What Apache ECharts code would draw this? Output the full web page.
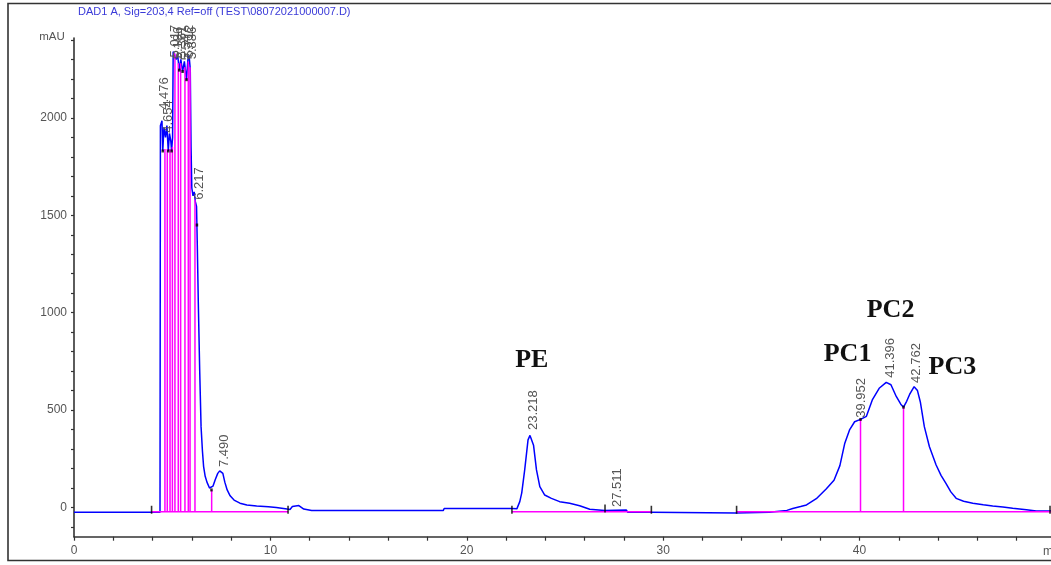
<!DOCTYPE html>
<html><head><meta charset="utf-8">
<script src="https://cdn.jsdelivr.net/npm/echarts@6/dist/echarts.min.js"></script>
<style>html,body{margin:0;padding:0;background:#fff;}#c{width:1051px;height:565px;}</style>
</head><body><div id="c"></div>
<script>
// ---- data ----
const traceTime = [0,4.38,4.40,4.48,4.52,4.58,4.66,4.73,4.80,4.86,4.93,4.97,5.02,5.05,5.12,5.20,5.28,5.36,5.44,5.53,5.62,5.73,5.80,5.86,5.92,5.96,6.00,6.06,6.12,6.18,6.24,6.28,6.33,6.40,6.47,6.54,6.60,6.68,6.77,6.90,7.00,7.08,7.20,7.32,7.42,7.50,7.58,7.68,7.80,7.95,8.15,8.45,8.80,9.30,9.90,10.30,10.35,10.85,10.90,11.00,11.12,11.20,11.45,11.55,11.70,12.10,18.80,18.85,22.30,22.55,22.70,22.80,22.95,23.12,23.22,23.30,23.40,23.55,23.72,23.97,24.31,24.73,25.24,25.75,26.26,27.02,28.13,28.20,29.40,29.45,33.70,33.75,35.40,35.45,36.30,36.60,37.00,37.30,37.80,38.30,38.70,39.00,39.25,39.50,39.75,40.05,40.35,40.65,41.00,41.36,41.60,41.87,42.10,42.24,42.40,42.55,42.78,42.95,43.10,43.30,43.56,43.90,44.15,44.40,44.65,44.92,45.30,45.77,46.30,46.78,47.30,47.80,48.50,49.00,49.75];
const traceValue = [-25,-25,1960,1985,1830,1950,1900,1960,1830,1920,1880,1830,1900,2340,2350,2300,2320,2245,2300,2238,2290,2196,2300,2320,2250,1850,1640,1600,1620,1570,1545,1340,1050,706,415,290,210,160,130,100,90,110,145,175,188,190,175,130,90,60,38,22,13,8,4,0,-8,-8,-14,-10,5,10,10,4,-8,-16,-16,-5,-5,-7,30,75,193,347,370,360,320,193,107,64,47,30,22,9,-9,-16,-13,-25,-25,-28,-28,-25,-25,-15,-15,-5,5,13,45,95,140,215,330,400,440,452,468,552,612,642,630,570,530,515,545,580,620,600,540,415,312,218,165,124,80,47,32,22,14,8,3,-4,-12,-18,-18];

// integration baselines [start, end, level]
const baseStart = [3.95, 22.30, 33.74];
const baseEnd   = [10.90, 29.40, 49.75];
const baseLevel = [-22, -22, -22];

// drop lines (time, height on trace)
const dropTime   = [4.63,4.75,4.89,5.01,5.14,5.31,5.43,5.65,5.82,5.91,6.16,7.01,40.05,42.24];
const dropHeight = [1840,1840,1840,1850,2330,2280,2280,2260,2290,2260,1580,90,452,515];

// integration event ticks
const eventTime  = [3.95,10.90,22.30,27.04,29.40,33.74,49.70];
const eventLevel = [-22,-22,-22,-16,-22,-22,-22];

// valley marks
const valleyTime  = [4.52,4.80,4.97,5.36,5.53,5.73,6.26,7.00,40.05,42.24];
const valleyValue = [1830,1830,1830,2245,2238,2196,1450,90,452,515];

// retention time labels
const rtText = ['4.476','4.654','5.017','5.186','5.361','5.547','5.712','5.886','6.217','7.490','23.218','27.511','39.952','41.396','42.762'];
const rtTime = [4.476,4.654,5.017,5.186,5.361,5.547,5.712,5.886,6.217,7.490,23.218,27.511,39.952,41.396,42.762];
const rtBase = [2021,1903,2290,2280,2285,2275,2290,2280,1559,187,377,-18,440,645,619];

// compound annotations
const annText  = ['PE','PC1','PC2','PC3'];
const annTime  = [23.31,39.39,41.58,44.73];
const annValue = [757,788,1014,722];

// axis ticks / labels
const xLabels = [0,10,20,30,40];
const xTicks  = [0,2,4,6,8,10,12,14,16,18,20,22,24,26,28,30,32,34,36,38,40,42,44,46,48];
const yLabels = [0,500,1000,1500,2000];
const yTicks  = [-100,0,100,200,300,400,500,600,700,800,900,1000,1100,1200,1300,1400,1500,1600,1700,1800,1900,2000,2100,2200,2300,2400];

const titleText = 'DAD1 A, Sig=203,4 Ref=off (TEST\\08072021000007.D)';

// ---- chart ----
const chart = echarts.init(document.getElementById('c'), null, {renderer:'canvas'});
const FONT = '"Liberation Sans", Arial, sans-serif';
const MAG = '#ff00ff';

const baselineSeries = baseStart.map((s,i)=>({
  type:'line', data:[[s, baseLevel[i]],[baseEnd[i], baseLevel[i]]],
  showSymbol:false, silent:true, z:4,
  lineStyle:{color:MAG, width:1.5}, animation:false
}));

const option = {
  animation:false,
  grid:{left:74, right:0, top:38, bottom:28.3},
  xAxis:{type:'value', min:0, max:49.75,
    axisLine:{onZero:false, lineStyle:{color:'#333', width:1.6}},
    axisTick:{customValues:xTicks, length:4, lineStyle:{color:'#333', width:1.2}},
    axisLabel:{customValues:xLabels, color:'#555', fontSize:12, fontFamily:FONT, margin:8, formatter:v=>String(v)},
    splitLine:{show:false}},
  yAxis:{type:'value', min:-150, max:2410,
    axisLine:{show:true, onZero:false, lineStyle:{color:'#333', width:1.6}},
    axisTick:{show:true, customValues:yTicks, length:3, lineStyle:{color:'#333', width:1.2}},
    axisLabel:{customValues:yLabels, color:'#555', fontSize:12, fontFamily:FONT, margin:7, formatter:v=>String(v)},
    splitLine:{show:false}},
  graphic:[
    {type:'rect', shape:{x:8, y:3.5, width:1100, height:557}, style:{fill:'none', stroke:'#333', lineWidth:1.6}, silent:true},
    {type:'text', x:78, y:12, style:{text:titleText, fill:'#3a3ad8', font:'11px '+FONT, align:'left', verticalAlign:'middle'}},
    {type:'text', x:52, y:37, style:{text:'mAU', fill:'#555', font:'11.5px '+FONT, align:'center', verticalAlign:'middle'}},
    {type:'text', x:1043, y:552, style:{text:'min', fill:'#555', font:'12px '+FONT, align:'left', verticalAlign:'middle'}}
  ],
  series:[
    {type:'line', name:'trace', data:traceTime.map((t,i)=>[t, traceValue[i]]),
     showSymbol:false, silent:true, z:3, lineStyle:{color:'#0000ff', width:1.5}},
    ...baselineSeries,
    {type:'custom', name:'drops', silent:true, z:4,
     data:dropTime.map((t,i)=>[t, dropHeight[i]]),
     renderItem:(p, api)=>{
       const a = api.coord([api.value(0), baseLevel[0]]);
       const b = api.coord([api.value(0), api.value(1)]);
       return {type:'line', shape:{x1:a[0], y1:a[1], x2:b[0], y2:b[1]}, style:{stroke:MAG, lineWidth:1.5}};
     }},
    {type:'scatter', name:'events', silent:true, z:6, symbol:'rect', symbolSize:[1.6,8], symbolOffset:[0,-2],
     itemStyle:{color:'#000'}, data:eventTime.map((t,i)=>[t, eventLevel[i]])},
    {type:'scatter', name:'valleys', silent:true, z:6, symbol:'rect', symbolSize:[2.5,3],
     itemStyle:{color:'#000'}, data:valleyTime.map((t,i)=>[t, valleyValue[i]])},
    {type:'custom', name:'rt', silent:true, z:7, clip:false,
     data:rtTime.map((t,i)=>[t, rtBase[i]]),
     renderItem:(p, api)=>{
       const c = api.coord([api.value(0), api.value(1)]);
       return {type:'text', x:c[0]+3, y:c[1]-4, rotation:Math.PI/2,
         style:{text:rtText[p.dataIndex], fill:'#555', font:'13px '+FONT, align:'left', verticalAlign:'middle'}};
     }},
    {type:'custom', name:'ann', silent:true, z:8, clip:false,
     data:annTime.map((t,i)=>[t, annValue[i]]),
     renderItem:(p, api)=>{
       const c = api.coord([api.value(0), api.value(1)]);
       return {type:'text', x:c[0], y:c[1],
         style:{text:annText[p.dataIndex], fill:'#111', font:'bold 26px "Liberation Serif", "Times New Roman", serif', align:'center', verticalAlign:'middle'}};
     }}
  ]
};
chart.setOption(option);
</script>
</body></html>
